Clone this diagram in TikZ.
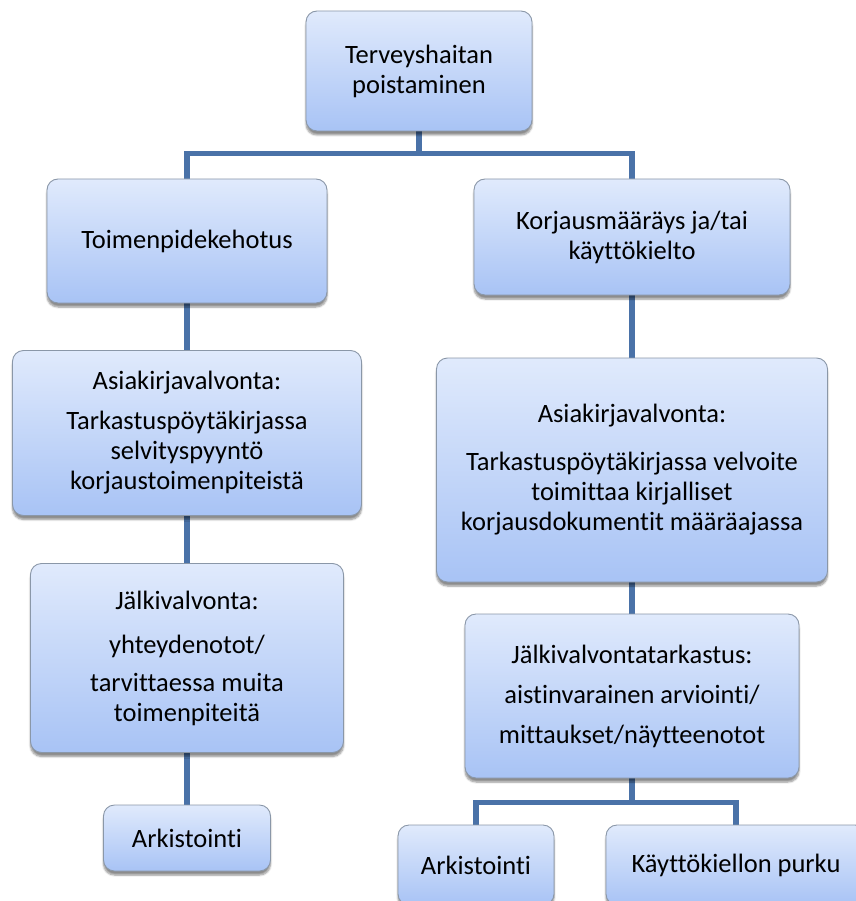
\documentclass[tikz,border=0pt]{standalone}
\usepackage{fontspec}
\setmainfont{Carlito}[Ligatures=NoCommon]
\usetikzlibrary{shadows.blur,backgrounds}
\definecolor{lineblue}{HTML}{4A72A8}
\definecolor{topfill}{HTML}{E0EAFC}
\definecolor{botfill}{HTML}{A8C3F5}
\definecolor{boxedge}{HTML}{8A97A8}
\tikzset{
  box/.style={draw=boxedge, line width=0.9pt, rounded corners=11pt,
    top color=topfill, bottom color=botfill, align=center, inner sep=0pt,
    font=\fontsize{26.5}{30}\selectfont,
    blur shadow={shadow xshift=0pt, shadow yshift=-4pt, shadow blur steps=6, shadow opacity=45}},
  conn/.style={draw=lineblue, line width=5.5pt}
}
\begin{document}
\begin{tikzpicture}[x=1pt,y=-1pt]
\useasboundingbox (0,0) rectangle (855,901);
\node[box, minimum width=226pt, minimum height=120pt] (top) at (419,71) {Terveyshaitan\\poistaminen};
\node[box, minimum width=280pt, minimum height=124pt] (toim) at (187,241) {Toimenpidekehotus};
\node[box, minimum width=316pt, minimum height=116pt] (korj) at (632,237) {Korjausmääräys ja/tai\\käyttökielto};
\node[box, minimum width=349pt, minimum height=165pt] (asl) at (187,433) {Asiakirjavalvonta:\\[10pt]Tarkastuspöytäkirjassa\\selvityspyyntö\\korjaustoimenpiteistä};
\node[box, minimum width=391pt, minimum height=224pt] (asr) at (632,470) {Asiakirjavalvonta:\\[18pt]Tarkastuspöytäkirjassa velvoite\\toimittaa kirjalliset\\korjausdokumentit määräajassa};
\node[box, minimum width=313pt, minimum height=189pt] (jvl) at (187,658) {Jälkivalvonta:\\[14pt]yhteydenotot/\\[8pt]tarvittaessa muita\\toimenpiteitä};
\node[box, minimum width=334pt, minimum height=164pt] (jvr) at (632,696) {Jälkivalvontatarkastus:\\[10pt]aistinvarainen arviointi/\\[10pt]mittaukset/näytteenotot};
\node[box, minimum width=167pt, minimum height=66pt] (ark1) at (187,838) {Arkistointi};
\node[box, minimum width=156pt, minimum height=80pt] (ark2) at (476,865) {Arkistointi};
\node[box, minimum width=260pt, minimum height=80pt] (purku) at (736,865) {Käyttökiellon purku};
\begin{scope}[on background layer]
\draw[conn] (top.south) -- ++(0,22) -| (toim.north);
\draw[conn] (top.south) -- ++(0,22) -| (korj.north);
\draw[conn] (toim.south) -- (asl.north);
\draw[conn] (asl.south) -- (jvl.north);
\draw[conn] (jvl.south) -- (ark1.north);
\draw[conn] (korj.south) -- (asr.north);
\draw[conn] (asr.south) -- (jvr.north);
\draw[conn] (jvr.south) -- ++(0,24) -| (ark2.north);
\draw[conn] (jvr.south) -- ++(0,24) -| (purku.north);
\end{scope}
\end{tikzpicture}
\end{document}
